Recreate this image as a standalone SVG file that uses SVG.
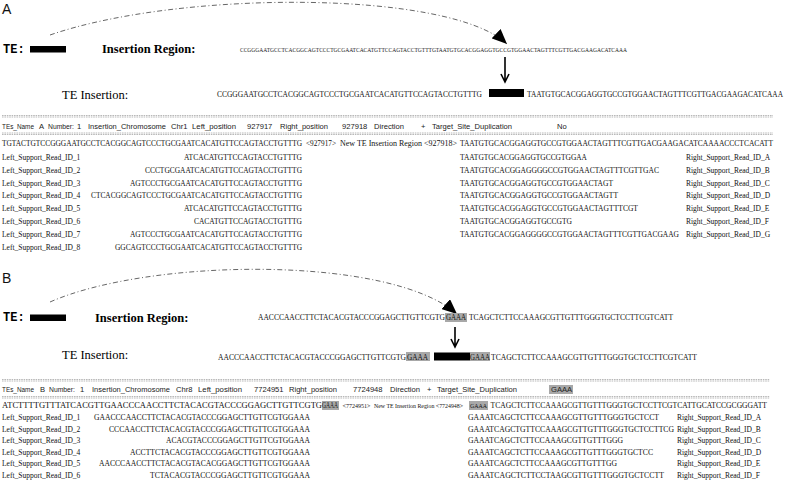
<svg xmlns="http://www.w3.org/2000/svg" width="789" height="487" viewBox="0 0 789 487">
<style>
.pl{font-family:"Liberation Sans",Arial,sans-serif;font-size:14px;fill:#111}
.te{font-family:"Liberation Mono","Courier New",monospace;font-size:12px;font-weight:bold;fill:#000}
.ir{font-family:"Liberation Serif","Times New Roman",serif;font-size:12.5px;font-weight:bold;fill:#000}
.ti{font-family:"Liberation Serif","Times New Roman",serif;font-size:12.5px;fill:#000}
.sq{font-family:"Liberation Serif","Times New Roman",serif;font-size:7.5px;fill:#111}
.sm{font-family:"Liberation Serif","Times New Roman",serif;font-size:6px;fill:#111}
.g4{font-family:"Liberation Serif","Times New Roman",serif;font-size:6.8px;fill:#111}
.ss{font-family:"Liberation Serif","Times New Roman",serif;font-size:5.6px;fill:#1a1a1a}
.hd{font-family:"Liberation Sans",Arial,sans-serif;font-size:7.6px;fill:#222}
.lb{font-family:"Liberation Serif","Times New Roman",serif;font-size:7.5px;fill:#111}
.sep{stroke:#8a8a8a;stroke-width:0.6;stroke-dasharray:1.6 0.8;fill:none}
.curve{stroke:#555;stroke-width:0.9;fill:none;stroke-dasharray:5 2.5 1 2.5}
.dn{stroke:#000;stroke-width:1.6;fill:none}
.hl{fill:#a8a8a8}
</style>
<defs>
<marker id="ah" markerUnits="userSpaceOnUse" markerWidth="15" markerHeight="13" viewBox="0 0 15 13" refX="15" refY="6.5" orient="auto">
<path d="M0,0 L15,6.5 L0,13 z" fill="#000"/>
</marker>
</defs>

<g id="panelA">
<text class="pl" x="2" y="14">A</text>
<g id="connectorsA">
<path class="curve" d="M50,35 C180,-10 450,-10 507,44" marker-end="url(#ah)"/>
<path class="dn" d="M505,57 V81 M501,74 L505,82 L509,74"/>
</g>
<g id="teA">
<text class="te" x="3" y="53">TE:</text>
<rect x="30" y="46" width="36" height="6.5" fill="#000"/>
</g>
<g id="regionA">
<text class="ir" x="102" y="53">Insertion Region:</text>
<text class="ss" x="240" y="52" textLength="387" lengthAdjust="spacingAndGlyphs">CCGGGAATGCCTCACGGCAGTCCCTGCGAATCACATGTTCCAGTACCTGTTTGTAATGTGCACGGAGGTGCCGTGGAACTAGTTTCGTTGACGAAGACATCAAA</text>
</g>
<g id="insertionA">
<text class="ti" x="62" y="99">TE Insertion:</text>
<text class="sq" x="217" y="97" textLength="265" lengthAdjust="spacingAndGlyphs">CCGGGAATGCCTCACGGCAGTCCCTGCGAATCACATGTTCCAGTACCTGTTTG</text>
<rect x="489" y="89" width="35" height="8" fill="#000"/>
<text class="sq" x="527" y="97" textLength="256" lengthAdjust="spacingAndGlyphs">TAATGTGCACGGAGGTGCCGTGGAACTAGTTTCGTTGACGAAGACATCAAA</text>
</g>
<g id="tableA">
<path class="sep" d="M2,115.5 H773 M2,117 H773"/>
<g id="headerA">
<text class="hd" x="2" y="128.5" textLength="32" lengthAdjust="spacingAndGlyphs">TEs_Name</text>
<text class="hd" x="39" y="128.5">A</text>
<text class="hd" x="48" y="128.5" textLength="26" lengthAdjust="spacingAndGlyphs">Number:</text>
<text class="hd" x="77" y="128.5">1</text>
<text class="hd" x="88" y="128.5" textLength="78" lengthAdjust="spacingAndGlyphs">Insertion_Chromosome</text>
<text class="hd" x="171" y="128.5">Chr1</text>
<text class="hd" x="192" y="128.5" textLength="44" lengthAdjust="spacingAndGlyphs">Left_position</text>
<text class="hd" x="247" y="128.5">927917</text>
<text class="hd" x="280" y="128.5" textLength="48" lengthAdjust="spacingAndGlyphs">Right_position</text>
<text class="hd" x="342" y="128.5">927918</text>
<text class="hd" x="374" y="128.5" textLength="30" lengthAdjust="spacingAndGlyphs">Direction</text>
<text class="hd" x="421" y="128.5">+</text>
<text class="hd" x="432" y="128.5" textLength="80" lengthAdjust="spacingAndGlyphs">Target_Site_Duplication</text>
<text class="hd" x="557" y="128.5">No</text>
</g>
<path class="sep" d="M2,133 H773 M2,134.5 H773"/>
<text class="sq" x="2" y="145.5" textLength="300" lengthAdjust="spacingAndGlyphs">TGTACTGTCCGGGAATGCCTCACGGCAGTCCCTGCGAATCACATGTTCCAGTACCTGTTTG</text>
<text class="sq" x="306" y="145.5" textLength="30" lengthAdjust="spacingAndGlyphs">&lt;927917&gt;</text>
<text class="sq" x="340" y="145.5" textLength="117" lengthAdjust="spacingAndGlyphs">New TE Insertion Region &lt;927918&gt;</text>
<text class="sq" x="460" y="145.5" textLength="313" lengthAdjust="spacingAndGlyphs">TAATGTGCACGGAGGTGCCGTGGAACTAGTTTCGTTGACGAAGACATCAAAACCCTCACATT</text>
<text class="lb" x="2" y="160">Left_Support_Read_ID_1</text>
<text class="lb" x="2" y="172.8">Left_Support_Read_ID_2</text>
<text class="lb" x="2" y="185.6">Left_Support_Read_ID_3</text>
<text class="lb" x="2" y="198.4">Left_Support_Read_ID_4</text>
<text class="lb" x="2" y="211.2">Left_Support_Read_ID_5</text>
<text class="lb" x="2" y="224">Left_Support_Read_ID_6</text>
<text class="lb" x="2" y="236.8">Left_Support_Read_ID_7</text>
<text class="lb" x="2" y="249.6">Left_Support_Read_ID_8</text>
<g text-anchor="end">
<text class="sq" x="302" y="160" textLength="118" lengthAdjust="spacingAndGlyphs">ATCACATGTTCCAGTACCTGTTTG</text>
<text class="sq" x="302" y="172.8" textLength="157" lengthAdjust="spacingAndGlyphs">CCCTGCGAATCACATGTTCCAGTACCTGTTTG</text>
<text class="sq" x="302" y="185.6" textLength="172" lengthAdjust="spacingAndGlyphs">AGTCCCTGCGAATCACATGTTCCAGTACCTGTTTG</text>
<text class="sq" x="302" y="198.4" textLength="211" lengthAdjust="spacingAndGlyphs">CTCACGGCAGTCCCTGCGAATCACATGTTCCAGTACCTGTTTG</text>
<text class="sq" x="302" y="211.2" textLength="118" lengthAdjust="spacingAndGlyphs">ATCACATGTTCCAGTACCTGTTTG</text>
<text class="sq" x="302" y="224" textLength="108" lengthAdjust="spacingAndGlyphs">CACATGTTCCAGTACCTGTTTG</text>
<text class="sq" x="302" y="236.8" textLength="172" lengthAdjust="spacingAndGlyphs">AGTCCCTGCGAATCACATGTTCCAGTACCTGTTTG</text>
<text class="sq" x="302" y="249.6" textLength="187" lengthAdjust="spacingAndGlyphs">GGCAGTCCCTGCGAATCACATGTTCCAGTACCTGTTTG</text>
</g>
<text class="sq" x="460" y="160" textLength="127" lengthAdjust="spacingAndGlyphs">TAATGTGCACGGAGGTGCCGTGGAA</text>
<text class="sq" x="460" y="172.8" textLength="199" lengthAdjust="spacingAndGlyphs">TAATGTGCACGGAGGGGCCGTGGAACTAGTTTCGTTGAC</text>
<text class="sq" x="460" y="185.6" textLength="153" lengthAdjust="spacingAndGlyphs">TAATGTGCACGGAGGTGCCGTGGAACTAGT</text>
<text class="sq" x="460" y="198.4" textLength="158" lengthAdjust="spacingAndGlyphs">TAATGTGCACGGAGGTGCCGTGGAACTAGTT</text>
<text class="sq" x="460" y="211.2" textLength="178" lengthAdjust="spacingAndGlyphs">TAATGTGCACGGAGGTGCCGTGGAACTAGTTTCGT</text>
<text class="sq" x="460" y="224" textLength="112" lengthAdjust="spacingAndGlyphs">TAATGTGCACGGAGGTGCCGTG</text>
<text class="sq" x="460" y="236.8" textLength="219" lengthAdjust="spacingAndGlyphs">TAATGTGCACGGAGGGGCCGTGGAACTAGTTTCGTTGACGAAG</text>
<text class="lb" x="686" y="160">Right_Support_Read_ID_A</text>
<text class="lb" x="686" y="172.8">Right_Support_Read_ID_B</text>
<text class="lb" x="686" y="185.6">Right_Support_Read_ID_C</text>
<text class="lb" x="686" y="198.4">Right_Support_Read_ID_D</text>
<text class="lb" x="686" y="211.2">Right_Support_Read_ID_E</text>
<text class="lb" x="686" y="224">Right_Support_Read_ID_F</text>
<text class="lb" x="686" y="236.8">Right_Support_Read_ID_G</text>
</g>
</g>

<g id="panelB">
<text class="pl" x="2" y="283">B</text>
<g id="connectorsB">
<path class="curve" d="M50,302 C150,258 390,255 457,314" marker-end="url(#ah)"/>
<path class="dn" d="M455,327 V346 M451,339 L455,347 L459,339"/>
</g>
<g id="teB">
<text class="te" x="3" y="321">TE:</text>
<rect x="30" y="314.5" width="36" height="6.5" fill="#000"/>
</g>
<g id="regionB">
<text class="ir" x="95" y="322">Insertion Region:</text>
<text class="sq" x="258" y="320" textLength="187" lengthAdjust="spacingAndGlyphs">AACCCAACCTTCTACACGTACCCGGAGCTTGTTCGTG</text>
<rect class="hl" x="445" y="313" width="22" height="9"/>
<text class="sq" x="446" y="320" textLength="20" lengthAdjust="spacingAndGlyphs">GAAA</text>
<text class="sq" x="469" y="320" textLength="204" lengthAdjust="spacingAndGlyphs">TCAGCTCTTCCAAAGCGTTGTTTGGGTGCTCCTTCGTCATT</text>
</g>
<g id="insertionB">
<text class="ti" x="62" y="359">TE Insertion:</text>
<text class="sq" x="218" y="360" textLength="188" lengthAdjust="spacingAndGlyphs">AACCCAACCTTCTACACGTACCCGGAGCTTGTTCGTG</text>
<rect class="hl" x="406" y="352" width="24" height="9"/>
<text class="sq" x="407" y="360" textLength="21" lengthAdjust="spacingAndGlyphs">GAAA</text>
<rect x="434" y="352.5" width="36" height="8" fill="#000"/>
<rect class="hl" x="470" y="352" width="20" height="9"/>
<text class="sq" x="470" y="360" textLength="20" lengthAdjust="spacingAndGlyphs">GAAA</text>
<text class="sq" x="491" y="360" textLength="206" lengthAdjust="spacingAndGlyphs">TCAGCTCTTCCAAAGCGTTGTTTGGGTGCTCCTTCGTCATT</text>
</g>
<g id="tableB">
<path class="sep" d="M2,379.5 H770 M2,381 H770"/>
<g id="headerB">
<text class="hd" x="2" y="392" textLength="32" lengthAdjust="spacingAndGlyphs">TEs_Name</text>
<text class="hd" x="40" y="392">B</text>
<text class="hd" x="49" y="392" textLength="26" lengthAdjust="spacingAndGlyphs">Number:</text>
<text class="hd" x="80" y="392">1</text>
<text class="hd" x="92" y="392" textLength="78" lengthAdjust="spacingAndGlyphs">Insertion_Chromosome</text>
<text class="hd" x="176" y="392">Chr8</text>
<text class="hd" x="198" y="392" textLength="44" lengthAdjust="spacingAndGlyphs">Left_position</text>
<text class="hd" x="254" y="392">7724951</text>
<text class="hd" x="289" y="392" textLength="48" lengthAdjust="spacingAndGlyphs">Right_position</text>
<text class="hd" x="353" y="392">7724948</text>
<text class="hd" x="390" y="392" textLength="30" lengthAdjust="spacingAndGlyphs">Direction</text>
<text class="hd" x="427" y="392">+</text>
<text class="hd" x="437" y="392" textLength="80" lengthAdjust="spacingAndGlyphs">Target_Site_Duplication</text>
<rect class="hl" x="549" y="385" width="24" height="9"/>
<text class="hd" x="551" y="392">GAAA</text>
</g>
<path class="sep" d="M2,396.5 H770 M2,398 H770"/>
<text class="sq" x="2" y="408" textLength="320" lengthAdjust="spacingAndGlyphs">ATCTTTTGTTTATCACGTTGAACCCAACCTTCTACACGTACCCGGAGCTTGTTCGTG</text>
<rect class="hl" x="322" y="401" width="17" height="9"/>
<text class="sq" x="322" y="408" textLength="16" lengthAdjust="spacingAndGlyphs">GAAA</text>
<text class="sm" x="342.5" y="408" textLength="28" lengthAdjust="spacingAndGlyphs">&lt;7724951&gt;</text>
<text class="sm" x="374" y="408" textLength="89" lengthAdjust="spacingAndGlyphs">New TE Insertion Region &lt;7724948&gt;</text>
<rect class="hl" x="469" y="401" width="19" height="9"/>
<text class="g4" x="470" y="408" textLength="17" lengthAdjust="spacingAndGlyphs">GAAA</text>
<text class="sq" x="490.5" y="408" textLength="276.5" lengthAdjust="spacingAndGlyphs">TCAGCTCTTCCAAAGCGTTGTTTGGGTGCTCCTTCGTCATTGCATCCGCGGGATT</text>
<text class="lb" x="2" y="420">Left_Support_Read_ID_1</text>
<text class="lb" x="2" y="431.5">Left_Support_Read_ID_2</text>
<text class="lb" x="2" y="443">Left_Support_Read_ID_3</text>
<text class="lb" x="2" y="454.5">Left_Support_Read_ID_4</text>
<text class="lb" x="2" y="466">Left_Support_Read_ID_5</text>
<text class="lb" x="2" y="477.5">Left_Support_Read_ID_6</text>
<g text-anchor="end">
<text class="sq" x="310" y="420" textLength="216" lengthAdjust="spacingAndGlyphs">GAACCCAACCTTCTACACGTACCCGGAGCTTGTTCGTGGAAA</text>
<text class="sq" x="310" y="431.5" textLength="201" lengthAdjust="spacingAndGlyphs">CCCAACCTTCTACACGTACCCGGAGCTTGTTCGTGGAAA</text>
<text class="sq" x="310" y="443" textLength="144" lengthAdjust="spacingAndGlyphs">ACACGTACCCGGAGCTTGTTCGTGGAAA</text>
<text class="sq" x="310" y="454.5" textLength="180" lengthAdjust="spacingAndGlyphs">ACCTTCTACACGTACCCGGAGCTTGTTCGTGGAAA</text>
<text class="sq" x="310" y="466" textLength="211" lengthAdjust="spacingAndGlyphs">AACCCAACCTTCTACACGTACACGGAGCTTGTTCGTGGAAA</text>
<text class="sq" x="310" y="477.5" textLength="160" lengthAdjust="spacingAndGlyphs">TCTACACGTACCCGGAGCTTGTTCGTGGAAA</text>
</g>
<text class="sq" x="468" y="420" textLength="191" lengthAdjust="spacingAndGlyphs">GAAATCAGCTCTTCCAAAGCGTTGTTTGGGTGCTCCT</text>
<text class="sq" x="468" y="431.5" textLength="206" lengthAdjust="spacingAndGlyphs">GAAATCAGCTGTTCCAAAGCGTTGTTTGGGTGCTCCTTCG</text>
<text class="sq" x="468" y="443" textLength="155" lengthAdjust="spacingAndGlyphs">GAAATCAGCTCTTCCAAAGCGTTGTTTGGG</text>
<text class="sq" x="468" y="454.5" textLength="185" lengthAdjust="spacingAndGlyphs">GAAATCAGCTCTTCCAAAGCGTTGTTTGGGTGCTCC</text>
<text class="sq" x="468" y="466" textLength="149" lengthAdjust="spacingAndGlyphs">GAAATCAGCTCTTCCAAAGCGTTGTTTGG</text>
<text class="sq" x="468" y="477.5" textLength="196" lengthAdjust="spacingAndGlyphs">GAAATCAGCTCTTCCTAAGCGTTGTTTGGGTGCTCCTT</text>
<text class="lb" x="677" y="420">Right_Support_Read_ID_A</text>
<text class="lb" x="677" y="431.5">Right_Support_Read_ID_B</text>
<text class="lb" x="677" y="443">Right_Support_Read_ID_C</text>
<text class="lb" x="677" y="454.5">Right_Support_Read_ID_D</text>
<text class="lb" x="677" y="466">Right_Support_Read_ID_E</text>
<text class="lb" x="677" y="477.5">Right_Support_Read_ID_F</text>
</g>
</g>
</svg>
